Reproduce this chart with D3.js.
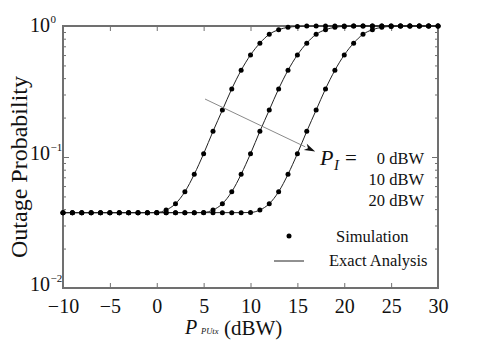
<!DOCTYPE html>
<html lang="en">
<head>
  <meta charset="UTF-8">
  <title>Outage Probability</title>
  <script src="https://d3js.org/d3.v7.min.js"></script>
  <style>
    body { margin: 0; background: #fff; }
    svg { display: block; }
    svg text { font-family: "Liberation Serif", "Times New Roman", serif; }
    .axis path { display: none; }
    .axis line { stroke: #707070; stroke-width: 1; }
    .axis text { font-size: 20px; fill: #111; }
    .frame { fill: none; stroke: #707070; stroke-width: 2; }
    .curve { fill: none; stroke: #222; stroke-width: 1; }
    .dot { fill: #000; }
    .lbl { fill: #111; }
  </style>
</head>
<body>
  <svg width="484" height="347"></svg>

  <script>
    // transmit power of the PU (dBW)
    const pTx = [-10, -9, -8, -7, -6, -5, -4, -3, -2, -1, 0, 1, 2, 3, 4, 5, 6, 7, 8, 9, 10,
      11, 12, 13, 14, 15, 16, 17, 18, 19, 20, 21, 22, 23, 24, 25, 26, 27, 28, 29, 30];

    // outage probability (P_I = 0, 10, 20 dBW)
    const outage0 = [0.0376, 0.0376, 0.0376, 0.0376, 0.0376, 0.0376, 0.0376, 0.0376, 0.0376, 0.0376,
      0.0377, 0.0394, 0.044, 0.0543, 0.0738, 0.106, 0.157, 0.228, 0.331, 0.459, 0.601,
      0.740, 0.864, 0.937, 0.977, 0.993, 0.998, 1, 1, 1, 1, 1, 1, 1, 1, 1, 1, 1, 1, 1, 1];
    const outage10 = [0.0376, 0.0376, 0.0376, 0.0376, 0.0376, 0.0376, 0.0376, 0.0376, 0.0376, 0.0376,
      0.0376, 0.0376, 0.0376, 0.0376, 0.0376, 0.0377, 0.0394, 0.044, 0.0543, 0.0738, 0.106,
      0.157, 0.228, 0.331, 0.459, 0.601, 0.740, 0.864, 0.937, 0.977, 0.993, 0.998, 1, 1, 1, 1, 1, 1, 1, 1, 1];
    const outage20 = [0.0376, 0.0376, 0.0376, 0.0376, 0.0376, 0.0376, 0.0376, 0.0376, 0.0376, 0.0376,
      0.0376, 0.0376, 0.0376, 0.0376, 0.0376, 0.0376, 0.0376, 0.0376, 0.0376, 0.0376, 0.0377,
      0.0394, 0.044, 0.0543, 0.0738, 0.106, 0.157, 0.228, 0.331, 0.459, 0.601, 0.740, 0.864,
      0.937, 0.977, 0.993, 0.998, 1, 1, 1, 1];

    const xTicks = [-10, -5, 0, 5, 10, 15, 20, 25, 30];
    const yMajor = [1, 0.1, 0.01];
    const yMajorExp = ["0", "\u22121", "\u22122"];
    const yMinor = [0.02, 0.03, 0.04, 0.05, 0.06, 0.07, 0.08, 0.09,
      0.2, 0.3, 0.4, 0.5, 0.6, 0.7, 0.8, 0.9];
    const piLabels = ["0 dBW", "10 dBW", "20 dBW"];

    // arrow across the curves (data coords)
    const arrowFrom = [5.15, 0.277];
    const arrowTo = [16.9, 0.11];

    const svg = d3.select("svg");
    const margin = { top: 26, right: 46, bottom: 59, left: 63 };
    const width = +svg.attr("width");
    const height = +svg.attr("height");
    const serif = "'Liberation Serif', 'Times New Roman', serif";

    const x = d3.scaleLinear().domain([-10, 30]).range([margin.left, width - margin.right]);
    const y = d3.scaleLog().domain([0.01, 1]).range([height - margin.bottom, margin.top]);

    // x axes (ticks pointing in)
    svg.append("g")
      .attr("class", "axis")
      .attr("transform", `translate(0,${y(0.01)})`)
      .call(d3.axisBottom(x).tickValues(xTicks).tickSize(-5).tickPadding(11))
      .attr("font-family", serif)
      .attr("font-size", 20);
    svg.append("g")
      .attr("class", "axis")
      .attr("transform", `translate(0,${y(1)})`)
      .call(d3.axisTop(x).tickValues(xTicks).tickSize(-5).tickFormat(""));

    // y axes, left and right
    svg.append("g").attr("class", "axis")
      .attr("transform", `translate(${x(-10)},0)`)
      .call(d3.axisLeft(y).tickValues(yMinor).tickSize(-3).tickFormat(""));
    svg.append("g").attr("class", "axis")
      .attr("transform", `translate(${x(-10)},0)`)
      .call(d3.axisLeft(y).tickValues(yMajor).tickSize(-6).tickFormat(""));
    svg.append("g").attr("class", "axis")
      .attr("transform", `translate(${x(30)},0)`)
      .call(d3.axisRight(y).tickValues(yMinor).tickSize(-3).tickFormat(""));
    svg.append("g").attr("class", "axis")
      .attr("transform", `translate(${x(30)},0)`)
      .call(d3.axisRight(y).tickValues(yMajor).tickSize(-6).tickFormat(""));

    // y tick labels 10^k
    yMajor.forEach((v, i) => {
      const by = Math.max(y(v) + 3, 32);
      svg.append("text").attr("class", "lbl")
        .attr("x", x(-10) - 13)
        .attr("y", by)
        .attr("text-anchor", "end")
        .style("font-size", "20px")
        .text("10");
      svg.append("text").attr("class", "lbl")
        .attr("x", x(-10) - 12.5)
        .attr("y", by - 9)
        .style("font-size", "11px")
        .text(yMajorExp[i]);
    });

    svg.append("rect")
      .attr("class", "frame")
      .attr("x", x(-10)).attr("y", y(1))
      .attr("width", x(30) - x(-10))
      .attr("height", y(0.01) - y(1));

    // curves
    const series = [outage0, outage10, outage20];
    const line = d3.line()
      .x((d, i) => x(pTx[i]))
      .y(d => y(d))
      .curve(d3.curveMonotoneX);

    series.forEach(s => {
      svg.append("path").attr("class", "curve").attr("d", line(s));
    });
    series.forEach(s => {
      svg.append("g").selectAll("circle")
        .data(s)
        .join("circle")
        .attr("class", "dot")
        .attr("cx", (d, i) => x(pTx[i]))
        .attr("cy", d => y(d))
        .attr("r", 2.5);
    });

    // arrow
    const ax1 = x(arrowFrom[0]), ay1 = y(arrowFrom[1]);
    const ax2 = x(arrowTo[0]), ay2 = y(arrowTo[1]);
    const ang = Math.atan2(ay2 - ay1, ax2 - ax1);
    const hl = 11, hw = 3.5;
    const bx = ax2 - hl * Math.cos(ang), by = ay2 - hl * Math.sin(ang);
    svg.append("line")
      .attr("x1", ax1).attr("y1", ay1)
      .attr("x2", bx).attr("y2", by)
      .attr("stroke", "#8a8a8a").attr("stroke-width", 1);
    svg.append("path")
      .attr("d", `M${ax2},${ay2}L${bx - hw * Math.sin(ang)},${by + hw * Math.cos(ang)}` +
        `L${bx + 3 * Math.cos(ang)},${by + 3 * Math.sin(ang)}` +
        `L${bx + hw * Math.sin(ang)},${by - hw * Math.cos(ang)}Z`)
      .attr("fill", "#111");

    // P_I = label
    svg.append("text").attr("class", "lbl").attr("x", 320).attr("y", 165)
      .style("font-style", "italic").style("font-size", "22px").text("P");
    svg.append("text").attr("class", "lbl").attr("x", 334).attr("y", 170)
      .style("font-style", "italic").style("font-size", "15px").text("I");
    svg.append("text").attr("class", "lbl").attr("x", 345).attr("y", 165)
      .style("font-size", "21px").text("=");

    piLabels.forEach((t, i) => {
      svg.append("text").attr("class", "lbl")
        .attr("x", 424).attr("y", 164 + i * 21)
        .attr("text-anchor", "end")
        .style("font-size", "16.5px")
        .text(t);
    });

    // legend
    svg.append("circle").attr("class", "dot").attr("cx", 289).attr("cy", 236).attr("r", 2.5);
    svg.append("text").attr("class", "lbl").attr("x", 336).attr("y", 242)
      .style("font-size", "16.5px").text("Simulation");
    svg.append("line").attr("x1", 274).attr("x2", 304).attr("y1", 261).attr("y2", 261)
      .attr("stroke", "#222").attr("stroke-width", 1);
    svg.append("text").attr("class", "lbl").attr("x", 329).attr("y", 266)
      .style("font-size", "16.5px").text("Exact Analysis");

    // axis titles
    svg.append("text").attr("class", "lbl").attr("x", 185).attr("y", 334)
      .style("font-style", "italic").style("font-size", "20px").text("P");
    svg.append("text").attr("class", "lbl").attr("x", 201).attr("y", 334)
      .style("font-style", "italic").style("font-size", "8.5px").text("PUtx");
    svg.append("text").attr("class", "lbl").attr("x", 224).attr("y", 335)
      .style("font-size", "21px").text("(dBW)");

    svg.append("text").attr("class", "lbl")
      .attr("transform", `translate(27,${(y(1) + y(0.01)) / 2 + 10}) rotate(-90)`)
      .attr("text-anchor", "middle")
      .style("font-size", "24px")
      .text("Outage Probability");
  </script>
</body>
</html>
